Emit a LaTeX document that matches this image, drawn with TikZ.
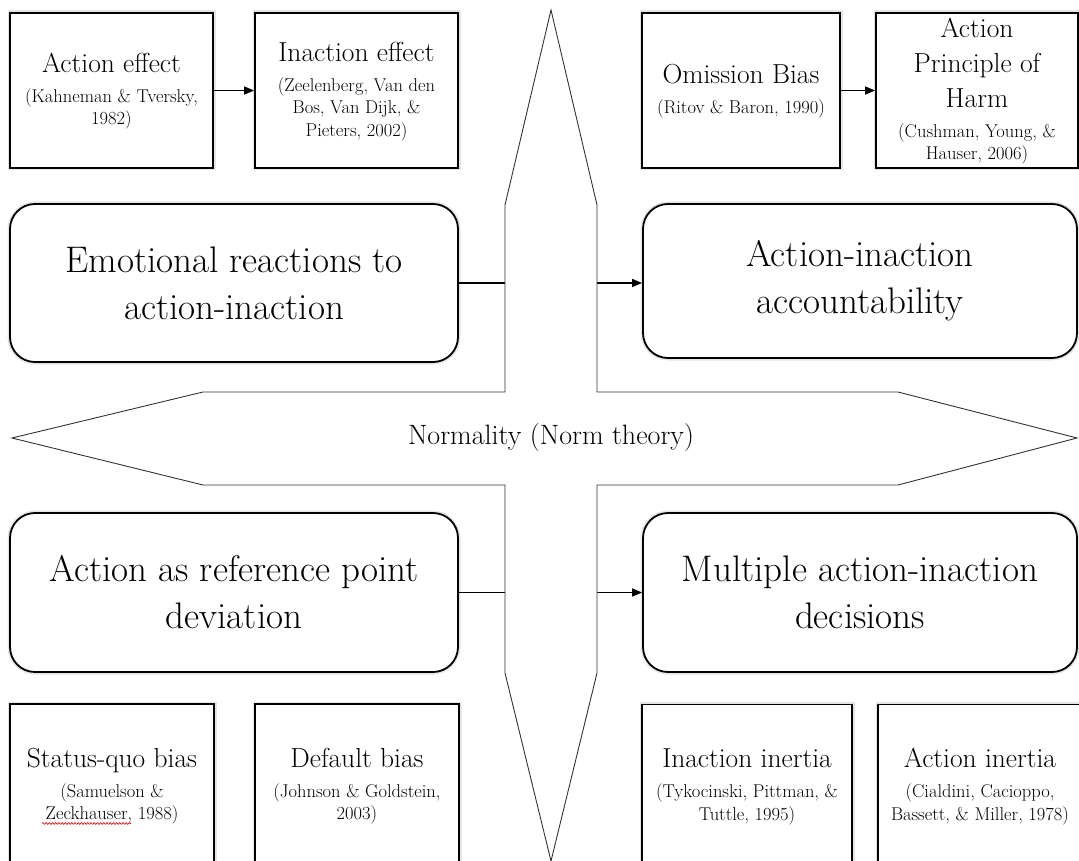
\documentclass[tikz,border=0pt]{standalone}
\usepackage{fontspec}
\usetikzlibrary{arrows.meta,decorations.pathmorphing}
\newcommand\titlef{\fontsize{27.5}{34}\selectfont}
\newcommand\citef{\fontsize{18.5}{22.5}\selectfont}
\newcommand\bigf{\fontsize{37}{47}\selectfont}
\newcommand\T[1]{\titlef\rule[-13pt]{0pt}{35pt}#1}
\newcommand\C[1]{\citef\rule[-5.5pt]{0pt}{22.5pt}#1}
\begin{document}
\begin{tikzpicture}[x=1pt,y=-1pt,
  sbox/.style={draw=black, line width=1.8pt, fill=white,
    preaction={draw=black!10, line width=5pt},
    minimum height=155pt, inner sep=0pt, align=center,
    font={\fontsize{16.5}{0pt}\selectfont\lineskip=0pt\lineskiplimit=0pt}},
  rbox/.style={draw=black, line width=1.8pt, fill=white, rounded corners=25pt,
    preaction={draw=black!10, line width=5pt},
    inner sep=0pt, align=center, font=\bigf},
  conn/.style={line width=1.6pt, -{Triangle[length=10pt,width=8pt]}},
  star/.style={draw=black!80, line width=0.9pt, fill=white},
  wavy/.style={draw=red!85!black, line width=0.6pt, decorate,
    decoration={snake, segment length=3.2pt, amplitude=0.9pt}}
]
\useasboundingbox (0,0) rectangle (1079,861);

% top small boxes
\node[sbox, minimum width=203pt] (ae) at (111.5,90.5)
  {\T{Action effect}\\ \C{(Kahneman \& Tversky,}\\ \C{1982)}};
\node[sbox, minimum width=203pt] (ie) at (356.5,90.5)
  {\T{Inaction effect}\\ \C{(Zeelenberg, Van den}\\ \C{Bos, Van Dijk, \&}\\ \C{Pieters, 2002)}};
\node[sbox, minimum width=198pt] (ob) at (741,90.5)
  {\T{Omission Bias}\\ \C{(Ritov \& Baron, 1990)}};
\node[sbox, minimum width=202pt] (aph) at (977,90.5)
  {\T{Action}\\ \T{Principle of}\\ \T{Harm}\\ \C{(Cushman, Young, \&}\\ \C{Hauser, 2006)}};

% bottom small boxes
\node[sbox, minimum width=204pt, minimum height=162pt] (sq) at (112,785)
  {\T{Status-quo bias}\\ \C{(Samuelson \&}\\ \C{Zeckhauser, 1988)}};
\node[sbox, minimum width=204pt, minimum height=162pt] (db) at (357,785)
  {\T{Default bias}\\ \C{(Johnson \& Goldstein,}\\ \C{2003)}};
\node[sbox, minimum width=210pt, minimum height=162pt] (ii) at (747,785.5)
  {\T{Inaction inertia}\\ \C{(Tykocinski, Pittman, \&}\\ \C{Tuttle, 1995)}};
\node[sbox, minimum width=204pt, minimum height=162pt] (ai) at (980,785.5)
  {\T{Action inertia}\\ \C{(Cialdini, Cacioppo,}\\ \C{Bassett, \& Miller, 1978)}};

% big rounded boxes
\node[rbox, minimum width=448pt, minimum height=158pt] (er) at (234,283)
  {Emotional reactions to\\ action-inaction};
\node[rbox, minimum width=434pt, minimum height=154pt] (aa) at (860,281)
  {Action-inaction\\ accountability};
\node[rbox, minimum width=448pt, minimum height=159pt] (ar) at (234,592.5)
  {Action as reference point\\ deviation};
\node[rbox, minimum width=434pt, minimum height=159pt] (ma) at (860,592.5)
  {Multiple action-inaction\\ decisions};

% connectors
\draw[conn] (ae) -- (ie);
\draw[conn] (ob) -- (aph);
\draw[conn] (er.east) -- (er.east -| aa.west);
\draw[conn] (ar.east) -- (ar.east -| ma.west);

% four-pointed star
\draw[star] (551,10) -- (597,205) -- (597,392) -- (898,392) -- (1077,438)
  -- (898,485) -- (597,485) -- (597,673) -- (551,861) -- (505,673)
  -- (505,485) -- (203,485) -- (12,438) -- (203,392) -- (505,392)
  -- (505,205) -- cycle;
\node[font=\fontsize{28}{32}\selectfont] (norm) at (551,438) {Normality (Norm theory)};

% spell-check underline
\coordinate (w1) at (42,823.5);
\coordinate (w2) at (131,823.5);
\draw[wavy] (w1) -- (w2);
\end{tikzpicture}
\end{document}
